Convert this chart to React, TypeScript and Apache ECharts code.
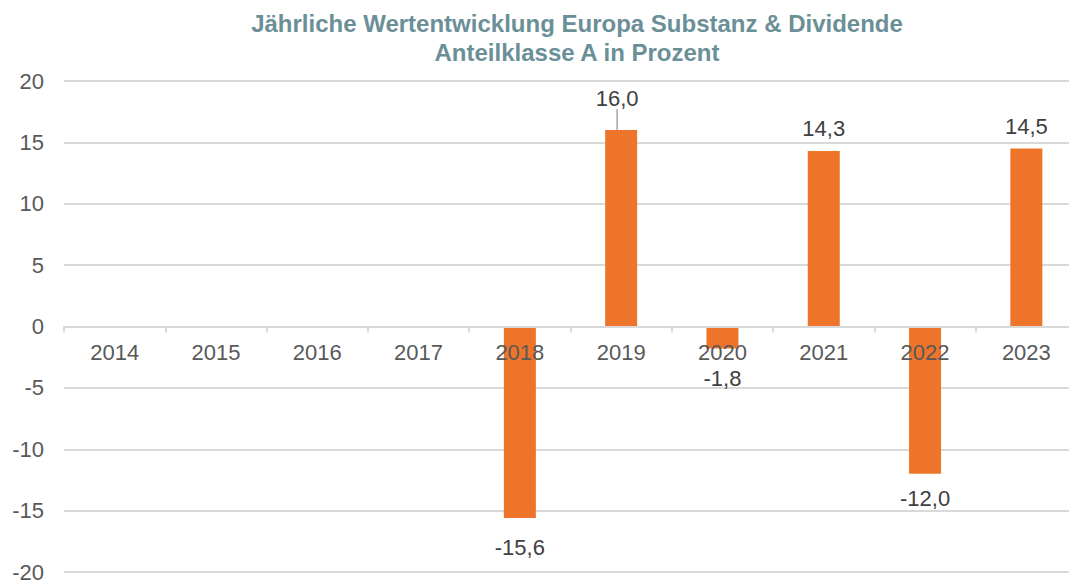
import React, { useEffect, useRef } from "react";
import * as echarts from "echarts";

const categories = ["2014", "2015", "2016", "2017", "2018", "2019", "2020", "2021", "2022", "2023"];
const values: (number | null)[] = [null, null, null, null, -15.6, 16.0, -1.8, 14.3, -12.0, 14.5];
const titleLines = ["Jährliche Wertentwicklung Europa Substanz & Dividende", "Anteilklasse A in Prozent"];

export default function App() {
  const ref = useRef<HTMLDivElement>(null);
  useEffect(() => {
    if (!ref.current) return;
    const chart = echarts.init(ref.current, null, { renderer: "svg" });
    const font = "'Liberation Sans', Arial, sans-serif";
    const gridTop = 81;
    const gridHeight = 491;
    chart.setOption({
      animation: false,
      backgroundColor: "#ffffff",
      title: {
        text: titleLines.join("\n"),
        left: 572,
        top: 4,
        textAlign: "center",
        textStyle: {
          fontFamily: font,
          fontSize: 24,
          fontWeight: "bold",
          color: "#6A8F97",
          lineHeight: 29,
        },
      },
      grid: {
        left: 64,
        right: -8,
        top: gridTop,
        height: gridHeight,
        containLabel: false,
        outerBoundsMode: "none",
      },
      xAxis: {
        type: "category",
        data: categories,
        position: "bottom",
        offset: -gridHeight / 2,
        axisLine: { onZero: false, lineStyle: { color: "#D9D9D9", width: 2 } },
        axisTick: { show: true, length: 6, lineStyle: { color: "#D9D9D9", width: 2 } },
        axisLabel: { margin: 17, fontFamily: font, fontSize: 22, lineHeight: 18, color: "#595959" },
        z: 5,
      },
      yAxis: {
        type: "value",
        min: -20,
        max: 20,
        interval: 5,
        axisLine: { show: false },
        axisTick: { show: false },
        axisLabel: { margin: 20, fontFamily: font, fontSize: 22, color: "#595959" },
        splitLine: { lineStyle: { color: "#D9D9D9", width: 2 } },
      },
      series: [
        {
          type: "bar",
          barWidth: 32,
          z: 3,
          itemStyle: { color: "#EE7429" },
          data: values.map((v, i) =>
            v === null
              ? null
              : {
                  value: v,
                  label: { position: v >= 0 ? "top" : "bottom" },
                  labelLine: { show: i === 5 },
                }
          ),
          label: {
            show: true,
            distance: 13,
            fontFamily: font,
            fontSize: 22,
            lineHeight: 18,
            color: "#404040",
            formatter: (p: any) => (p.value == null ? "" : Number(p.value).toFixed(1).replace(".", ",")),
          },
          labelLine: { show: false, lineStyle: { color: "#A6A6A6", width: 1.5 } },
          labelLayout: (p: any) => {
            if (p.dataIndex === 5) return { dy: -10, dx: -4 };
            if (p.dataIndex === 4) return { dy: 8 };
            if (p.dataIndex === 6) return { dy: 8 };
            if (p.dataIndex === 8) return { dy: 3 };
            return {};
          },
        },
      ],
    });
    return () => chart.dispose();
  }, []);
  return (
    <div
      ref={ref}
      style={{ position: "fixed", left: 0, top: 0, width: 1069, height: 583 }}
    />
  );
}
